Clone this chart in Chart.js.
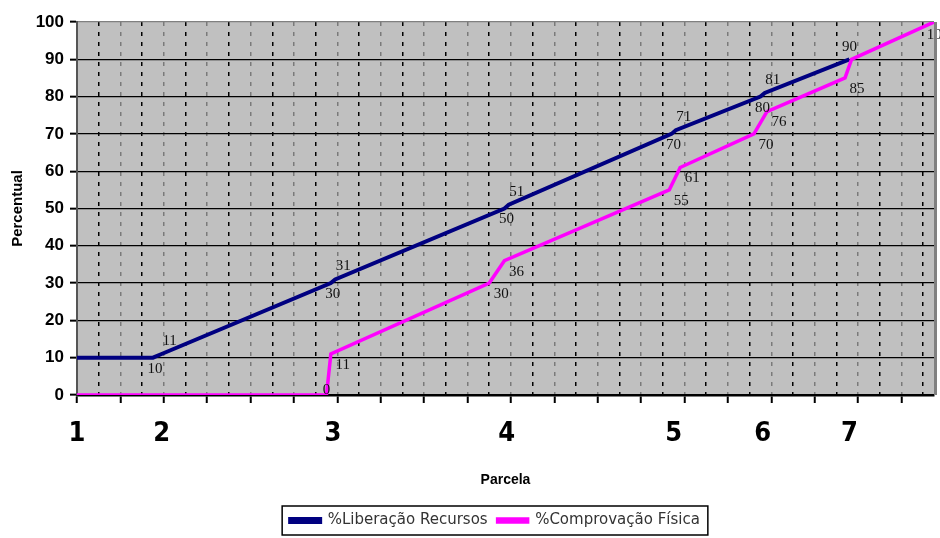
<!DOCTYPE html>
<html>
<head>
<meta charset="utf-8">
<script src="https://cdn.jsdelivr.net/npm/chart.js@4.4.0/dist/chart.umd.min.js"></script>
<style>
  html, body { margin: 0; padding: 0; background: #fff; }
  #wrap { width: 940px; height: 538px; }
</style>
</head>
<body>
<div id="wrap"><canvas id="myChart" width="940" height="538"></canvas></div>
<script>
// Parcelas: tick labels and where each one sits on the x axis
const parcelas = ['1', '2', '3', '4', '5', '6', '7'];
const parcelaPos = [0, 1.95, 5.9, 9.9, 13.75, 15.8, 17.8];
const xMax = 19.75;

// %Liberação Recursos
const liberacaoX = [0, 1.75, 1.95, 5.85, 5.95, 9.85, 9.95, 13.7, 13.8, 15.75, 15.85, 17.8];
const liberacaoY = [10, 10, 11, 30, 31, 50, 51, 70, 71, 80, 81, 90];

// %Comprovação Física
const comprovacaoX = [0, 5.75, 5.85, 9.5, 9.85, 13.65, 13.9, 15.6, 15.9, 17.7, 17.85, 19.75];
const comprovacaoY = [0, 0, 11, 30, 36, 55, 61, 70, 76, 85, 90, 100];

const sans = "'Liberation Sans', Arial, sans-serif";

// grey plot area + frames
const fundo = {
  id: 'fundo',
  afterLayout(chart) {
    // legend sits a bit right of centre in the original
    chart.legend.left += 28;
    chart.legend.right += 28;
  },
  beforeDraw(chart) {
    const { ctx, chartArea: a } = chart;
    ctx.save();
    ctx.fillStyle = '#c0c0c0';
    ctx.fillRect(a.left, a.top, a.right - a.left, a.bottom - a.top);
    ctx.restore();
  },
  afterDraw(chart) {
    const { ctx, chartArea: a, legend } = chart;
    ctx.save();
    ctx.strokeStyle = '#808080';
    ctx.lineWidth = 3;
    ctx.beginPath();
    ctx.moveTo(a.right + 1.5, a.top);
    ctx.lineTo(a.right + 1.5, a.bottom);
    ctx.stroke();
    // legend frame
    const boxes = legend.legendHitBoxes;
    if (boxes && boxes.length) {
      const l = Math.min(...boxes.map(b => b.left)) - 8;
      const r = Math.max(...boxes.map(b => b.left + b.width)) + 8;
      const t = Math.min(...boxes.map(b => b.top)) - 7;
      const bt = Math.max(...boxes.map(b => b.top + b.height)) + 7;
      ctx.strokeStyle = '#000';
      ctx.lineWidth = 1.5;
      ctx.strokeRect(l, t, r - l, bt - t);
    }
    ctx.restore();
  }
};

// value labels next to the lines
const rotulos = {
  id: 'rotulos',
  afterDatasetsDraw(chart, args, opts) {
    const { ctx, scales: { x, y } } = chart;
    ctx.save();
    ctx.font = "15px 'Liberation Serif', serif";
    ctx.fillStyle = '#111';
    ctx.textAlign = 'center';
    ctx.textBaseline = 'middle';
    chart.data.datasets.forEach((ds, di) => {
      ds.data.forEach((p, i) => {
        const off = opts.offset(di, i, ds.data.length);
        if (!off) return;
        ctx.fillText(String(p.y), x.getPixelForValue(p.x) + off[0], y.getPixelForValue(p.y) + off[1]);
      });
    });
    ctx.restore();
  }
};

const ctx = document.getElementById('myChart').getContext('2d');
new Chart(ctx, {
  type: 'line',
  data: {
    datasets: [{
      label: '%Liberação Recursos',
      data: liberacaoX.map((v, i) => ({ x: v, y: liberacaoY[i] })),
      borderColor: '#000080',
      backgroundColor: '#000080',
      borderWidth: 4,
      pointRadius: 0,
      tension: 0,
      order: 1
    }, {
      label: '%Comprovação Física',
      data: comprovacaoX.map((v, i) => ({ x: v, y: comprovacaoY[i] })),
      borderColor: '#ff00ff',
      backgroundColor: '#ff00ff',
      borderWidth: 3.5,
      pointRadius: 0,
      tension: 0,
      order: 0
    }]
  },
  options: {
    responsive: false,
    animation: false,
    layout: { padding: { top: 22, right: 6, left: 0, bottom: 0 } },
    plugins: {
      tooltip: { enabled: false },
      legend: {
        position: 'bottom',
        labels: {
          sort: (a, b) => a.datasetIndex - b.datasetIndex,
          boxWidth: 30,
          boxHeight: 3,
          color: '#333',
          font: { family: "'DejaVu Sans', sans-serif", size: 15 },
          padding: 10
        }
      },
      rotulos: {
        offset: (di, i, n) => {
          if (i === 0) return null;
          if (di === 0) {
            if (i === n - 1) return [0, -12];
            return i % 2 === 1 ? [2, 11] : [8, -13];
          }
          if (i === 1) return [0, -5];
          if (i === n - 2) return null; // 90 already shown by the blue line
          if (i === n - 1) return [4, 13];
          return [12, 11];
        }
      }
    },
    scales: {
      x: {
        type: 'linear',
        min: 0,
        max: xMax,
        position: 'bottom',
        weight: 0,
        afterBuildTicks: axis => {
          const t = [];
          for (let v = 0; v <= xMax; v += 0.5) t.push({ value: v });
          axis.ticks = t;
        },
        ticks: { display: false },
        grid: {
          color: c => !c.tick || c.tick.value === 0 ? 'rgba(0,0,0,0)' : (Number.isInteger(c.tick.value) ? '#7a7a7a' : '#000'),
          lineWidth: 1.5,
          tickLength: 8,
          tickWidth: 2,
          tickColor: c => c.tick && Number.isInteger(c.tick.value) ? '#000' : 'rgba(0,0,0,0)'
        },
        border: { color: '#000', width: 2.5, dash: [4, 6] },
        afterFit: s => { s.height = 8; }
      },
      x2: {
        type: 'linear',
        min: 0,
        max: xMax,
        position: 'bottom',
        weight: 1,
        afterBuildTicks: axis => { axis.ticks = parcelaPos.map(v => ({ value: v })); },
        ticks: {
          callback: (v, i) => parcelas[i],
          autoSkip: false,
          maxRotation: 0,
          color: '#000',
          padding: 15,
          font: { family: "'DejaVu Sans Condensed', 'Liberation Sans', sans-serif", size: 27, weight: 'bold' }
        },
        grid: { display: false, drawTicks: false },
        border: { display: false },
        title: {
          display: true,
          text: 'Parcela',
          color: '#000',
          font: { family: sans, size: 14, weight: 'bold' },
          padding: { top: 0, bottom: 14 }
        },
        afterFit: s => { s.height = 100; }
      },
      y: {
        min: 0,
        max: 100,
        ticks: {
          stepSize: 10,
          color: '#000',
          padding: 6,
          font: { family: sans, size: 17, weight: 'bold' }
        },
        grid: {
          color: c => c.tick && c.tick.value === 100 ? '#808080' : '#000',
          lineWidth: 1.3,
          tickLength: 7,
          tickWidth: 2,
          tickColor: '#000'
        },
        border: { color: '#555', width: 2 },
        title: {
          display: true,
          text: 'Percentual',
          color: '#000',
          font: { family: sans, size: 15, weight: 'bold' },
          padding: { top: 9, bottom: 0 }
        },
        afterFit: s => { s.width = 77; }
      }
    }
  },
  plugins: [fundo, rotulos]
});
</script>
</body>
</html>
